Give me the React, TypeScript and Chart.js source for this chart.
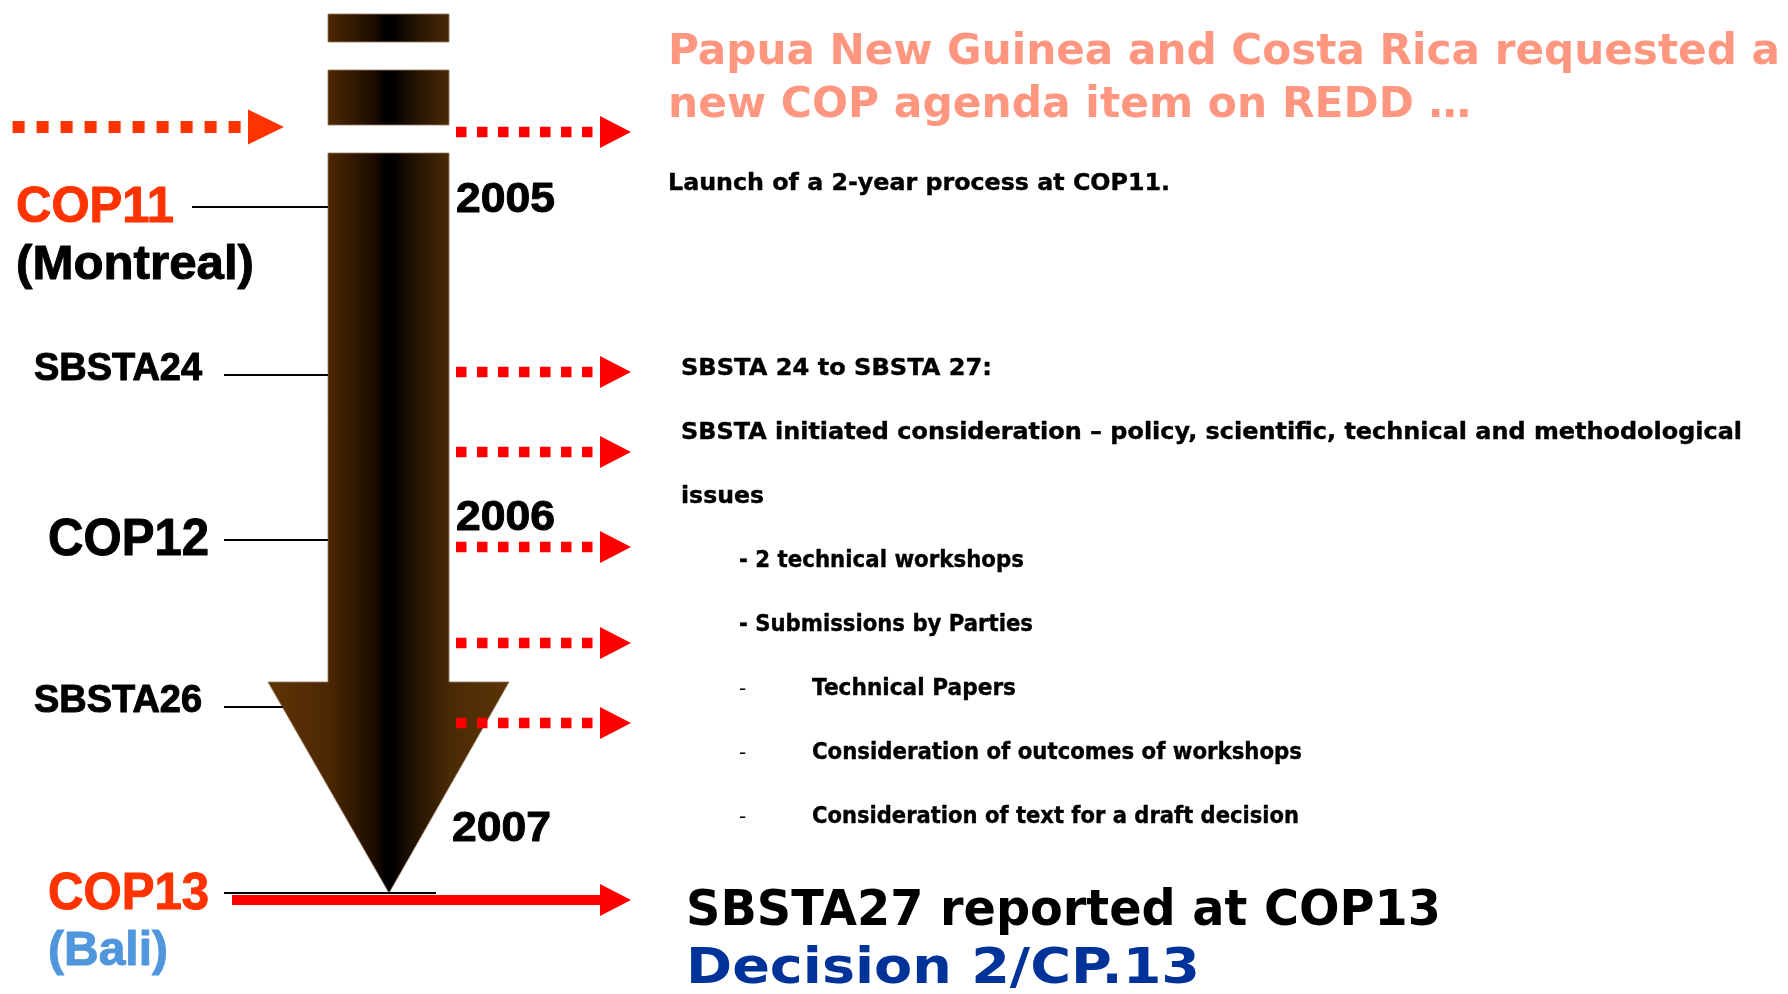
import React, { useEffect, useRef } from 'react';
import { Chart, registerables } from 'chart.js';

Chart.register(...registerables);

const W = 1788;
const H = 994;

// ---- data (timeline units; y axis runs downward) ----
const eventLabels = ['COP11', 'SBSTA24', 'COP12', 'SBSTA26', 'COP13'];
const eventPlaces = ['(Montreal)', '', '', '', '(Bali)'];
const eventPos = [207, 375, 540, 707, 893];
const eventTickFrom = [192, 224, 224, 224, 224];
const eventTickTo = [328, 328, 328, 283, 436];
const yearLabels = ['2005', '2006', '2007'];
const yearPos = [212, 530, 841];
const inputArrowPos = [127];
const outputArrowPos = [132, 372, 452, 547, 643, 723];
const resultArrowPos = [900];
const headlineLines = [
  'Papua New Guinea and Costa Rica requested a',
  'new COP agenda item on REDD …',
];
const launchLine = 'Launch of a 2-year process at COP11.';
const noteLines = [
  'SBSTA 24 to SBSTA 27:',
  'SBSTA initiated consideration – policy, scientific, technical and methodological',
  'issues',
  '- 2 technical workshops',
  '- Submissions by Parties',
  'Technical Papers',
  'Consideration of outcomes of workshops',
  'Consideration of text for a draft decision',
];
const noteLevels = [0, 0, 0, 1, 1, 2, 2, 2];
const resultLines = ['SBSTA27 reported at COP13', 'Decision 2/CP.13'];

// ---- layout / style (not data) ----
const ARIAL = '"Liberation Sans", Arial, sans-serif';
const VERDANA = '"DejaVu Sans", Verdana, sans-serif';
const ORANGE = '#ff3300';
const RED = '#ff0000';

const eventStyle = [
  { x: 16, base: 222, w: 158, size: 50, color: ORANGE },
  { x: 34, base: 380, w: 168, size: 38, color: '#000000' },
  { x: 48, base: 555, w: 161, size: 51, color: '#000000' },
  { x: 34, base: 712, w: 168, size: 38, color: '#000000' },
  { x: 48, base: 909, w: 161, size: 51, color: ORANGE },
];
const placeStyle = [
  { x: 16, base: 279, w: 238, size: 49, color: '#000000' },
  null,
  null,
  null,
  { x: 48, base: 965, w: 120, size: 49, color: '#5096dc' },
];
const yearStyle = [
  { x: 456, w: 99 },
  { x: 456, w: 99 },
  { x: 452, w: 99 },
];
const headlineStyle = [
  { x: 668, base: 64, w: 1112 },
  { x: 668, base: 117, w: 803 },
];
const noteBase = [375, 439, 503, 567, 631, 695, 759, 823];
const noteWidth = [311, 1061, 83, 285, 294, 204, 490, 487];
const levelX = [681, 739, 812];
const resultStyle = [
  { x: 686, base: 925, w: 755, color: '#000000' },
  { x: 686, base: 983, w: 514, color: '#003399' },
];

function fitText(
  ctx: CanvasRenderingContext2D,
  text: string,
  x: number,
  y: number,
  w: number,
  font: string,
  color: string,
  heavy = 0
) {
  ctx.save();
  ctx.font = font;
  ctx.fillStyle = color;
  ctx.strokeStyle = color;
  ctx.lineJoin = 'round';
  ctx.textAlign = 'left';
  ctx.textBaseline = 'alphabetic';
  const m = ctx.measureText(text).width || 1;
  ctx.translate(x, y);
  ctx.scale(w / m, 1);
  ctx.fillText(text, 0, 0);
  if (heavy > 0) {
    ctx.lineWidth = heavy;
    ctx.strokeText(text, 0, 0);
  }
  ctx.restore();
}

const timelinePlugin = {
  id: 'timelineArt',
  beforeDatasetsDraw(chart: any) {
    const ctx: CanvasRenderingContext2D = chart.ctx;
    const xs = chart.scales.x;
    const ys = chart.scales.y;
    const px = (v: number) => xs.getPixelForValue(v);
    const py = (v: number) => ys.getPixelForValue(v);

    const grad = ctx.createLinearGradient(px(268), 0, px(509), 0);
    grad.addColorStop(0, '#603406');
    grad.addColorStop(0.25, '#4c2804');
    grad.addColorStop(0.44, '#1c0c00');
    grad.addColorStop(0.49, '#000000');
    grad.addColorStop(0.52, '#000000');
    grad.addColorStop(0.57, '#180c02');
    grad.addColorStop(0.75, '#4a2a06');
    grad.addColorStop(1, '#5c3406');

    ctx.save();
    ctx.fillStyle = grad;
    ctx.strokeStyle = 'rgba(150,120,90,0.8)';
    ctx.lineWidth = 1;
    const blocks = [
      [14, 42],
      [70, 125],
    ];
    blocks.forEach(([a, b]) => {
      ctx.beginPath();
      ctx.rect(px(328), py(a), px(449) - px(328), py(b) - py(a));
      ctx.fill();
      ctx.stroke();
    });
    ctx.beginPath();
    ctx.moveTo(px(328), py(153));
    ctx.lineTo(px(449), py(153));
    ctx.lineTo(px(449), py(682));
    ctx.lineTo(px(509), py(682));
    ctx.lineTo(px(389), py(893));
    ctx.lineTo(px(268), py(682));
    ctx.lineTo(px(328), py(682));
    ctx.closePath();
    ctx.fill();
    ctx.stroke();
    ctx.restore();
  },
  afterDatasetsDraw(chart: any) {
    const ctx: CanvasRenderingContext2D = chart.ctx;
    const xs = chart.scales.x;
    const ys = chart.scales.y;
    const px = (v: number) => xs.getPixelForValue(v);
    const py = (v: number) => ys.getPixelForValue(v);
    const tri = (x0: number, x1: number, y: number, half: number, color: string) => {
      ctx.save();
      ctx.fillStyle = color;
      ctx.beginPath();
      ctx.moveTo(px(x0), py(y - half));
      ctx.lineTo(px(x1), py(y));
      ctx.lineTo(px(x0), py(y + half));
      ctx.closePath();
      ctx.fill();
      ctx.restore();
    };
    inputArrowPos.forEach((y) => tri(248, 284, y, 17.5, ORANGE));
    outputArrowPos.forEach((y) => tri(600, 631, y, 16, RED));
    resultArrowPos.forEach((y) => tri(600, 631, y, 16, RED));

    const wpx = (x: number, w: number) => px(x + w) - px(x);

    eventLabels.forEach((t, i) => {
      const s = eventStyle[i];
      fitText(ctx, t, px(s.x), py(s.base), wpx(s.x, s.w), `bold ${s.size}px ${ARIAL}`, s.color, 1);
      const p = placeStyle[i];
      if (p && eventPlaces[i]) {
        fitText(ctx, eventPlaces[i], px(p.x), py(p.base), wpx(p.x, p.w), `bold ${p.size}px ${ARIAL}`, p.color, 1);
      }
    });
    yearLabels.forEach((t, i) => {
      const s = yearStyle[i];
      fitText(ctx, t, px(s.x), py(yearPos[i]), wpx(s.x, s.w), `bold 43px ${ARIAL}`, '#000000', 1);
    });
    headlineLines.forEach((t, i) => {
      const s = headlineStyle[i];
      fitText(ctx, t, px(s.x), py(s.base), wpx(s.x, s.w), `bold 42px ${VERDANA}`, '#ff9680');
    });
    fitText(ctx, launchLine, px(668), py(190), wpx(668, 502), `bold 23px ${VERDANA}`, '#000000', 0.4);
    noteLines.forEach((t, i) => {
      const lvl = noteLevels[i];
      const x = levelX[lvl];
      if (lvl === 2) {
        ctx.save();
        ctx.font = `20px ${VERDANA}`;
        ctx.fillStyle = '#000000';
        ctx.fillText('-', px(levelX[1]), py(noteBase[i]));
        ctx.restore();
      }
      fitText(ctx, t, px(x), py(noteBase[i]), wpx(x, noteWidth[i]), `bold 23px ${VERDANA}`, '#000000', 0.4);
    });
    resultLines.forEach((t, i) => {
      const s = resultStyle[i];
      fitText(ctx, t, px(s.x), py(s.base), wpx(s.x, s.w), `bold 50px ${VERDANA}`, s.color);
    });
  },
};

export default function App() {
  const ref = useRef<HTMLCanvasElement | null>(null);
  useEffect(() => {
    document.body.style.margin = '0';
    const canvas = ref.current;
    if (!canvas) return;

    const datasets: any[] = [];
    eventPos.forEach((y, i) => {
      datasets.push({
        label: eventLabels[i],
        data: [
          { x: eventTickFrom[i], y },
          { x: eventTickTo[i], y },
        ],
        showLine: true,
        borderColor: '#000000',
        borderWidth: 2,
        pointRadius: 0,
        fill: false,
        borderCapStyle: 'butt',
      });
    });
    resultArrowPos.forEach((y) => {
      datasets.push({
        label: 'result',
        data: [
          { x: 232, y },
          { x: 602, y },
        ],
        showLine: true,
        borderColor: RED,
        borderWidth: 10,
        pointRadius: 0,
        fill: false,
        borderCapStyle: 'butt',
      });
    });
    inputArrowPos.forEach((y) => {
      datasets.push({
        label: 'input',
        data: [
          { x: 12.6, y },
          { x: 241, y },
        ],
        showLine: true,
        borderColor: ORANGE,
        borderWidth: 12,
        borderDash: [12, 12],
        pointRadius: 0,
        fill: false,
        borderCapStyle: 'butt',
      });
    });
    outputArrowPos.forEach((y) => {
      datasets.push({
        label: 'output',
        data: [
          { x: 456, y },
          { x: 594, y },
        ],
        showLine: true,
        borderColor: RED,
        borderWidth: 10.5,
        borderDash: [10.5, 10.5],
        pointRadius: 0,
        fill: false,
        borderCapStyle: 'butt',
      });
    });

    const chart = new Chart(canvas, {
      type: 'scatter',
      data: { datasets },
      options: {
        animation: false,
        responsive: false,
        maintainAspectRatio: false,
        devicePixelRatio: 1,
        events: [],
        layout: { padding: 0 },
        plugins: {
          legend: { display: false },
          tooltip: { enabled: false },
        },
        scales: {
          x: { type: 'linear', min: 0, max: W, display: false },
          y: { type: 'linear', min: 0, max: H, reverse: true, display: false },
        },
      } as any,
      plugins: [timelinePlugin],
    });
    return () => chart.destroy();
  }, []);

  return (
    <div style={{ position: 'absolute', left: 0, top: 0, width: W, height: H, background: '#ffffff' }}>
      <canvas ref={ref} width={W} height={H} style={{ display: 'block', width: W, height: H }} />
    </div>
  );
}
